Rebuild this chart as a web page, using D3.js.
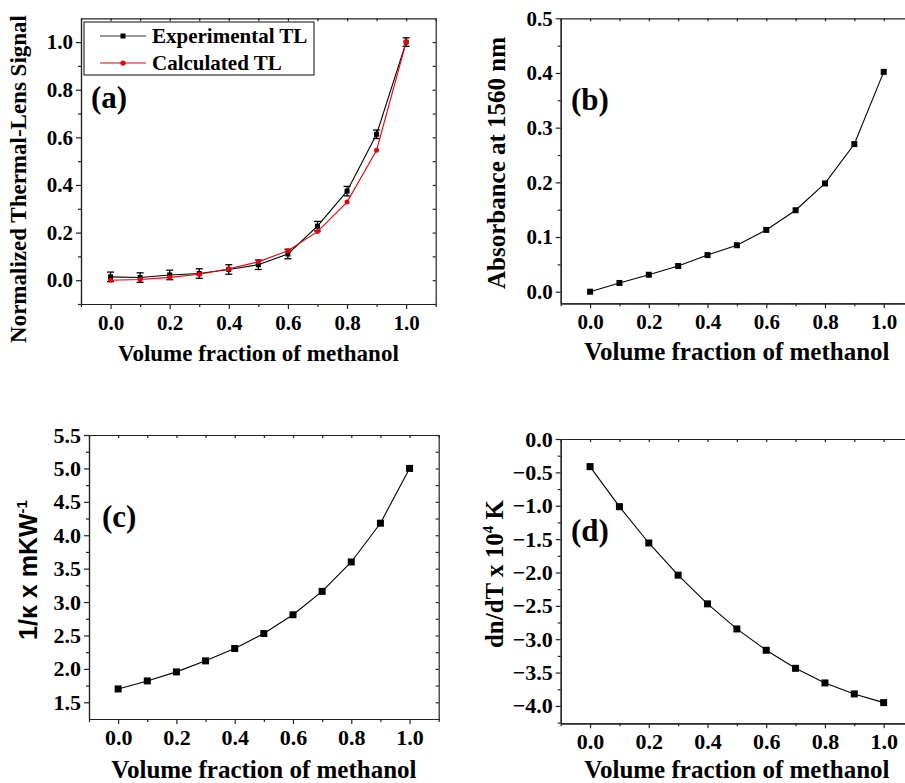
<!DOCTYPE html>
<html>
<head>
<meta charset="utf-8">
<script src="https://cdn.jsdelivr.net/npm/d3@7"></script>
<style>
  body { margin: 0; background: #fff; }
  svg { display: block; }
</style>
</head>
<body>
<div id="chart"></div>
<script>
// volume fraction of methanol (x values, shared by all panels)
const fraction = [0.0, 0.1, 0.2, 0.3, 0.4, 0.5, 0.6, 0.7, 0.8, 0.9, 1.0];

// (a) normalized thermal-lens signal
const expTL = [0.014, 0.011, 0.022, 0.028, 0.045, 0.065, 0.11, 0.227, 0.374, 0.613, 1.0];
const expErr = [0.02, 0.02, 0.02, 0.02, 0.02, 0.02, 0.02, 0.02, 0.02, 0.018, 0.018];
const calcTL = [0.0, 0.003, 0.012, 0.025, 0.048, 0.077, 0.124, 0.204, 0.328, 0.546, 1.0];

// (b) absorbance at 1560 nm
const absorbance = [0.0, 0.016, 0.031, 0.047, 0.067, 0.085, 0.113, 0.149, 0.198, 0.27, 0.402];

// (c) 1/kappa
const invKappa = [1.7, 1.82, 1.955, 2.12, 2.305, 2.53, 2.81, 3.16, 3.6, 4.18, 5.0];

// (d) dn/dT
const dndT = [-0.414, -1.014, -1.558, -2.04, -2.47, -2.846, -3.166, -3.436, -3.655, -3.82, -3.95];

// tick labels
const xTicks = [0.0, 0.2, 0.4, 0.6, 0.8, 1.0];
const xMinor = [-0.1, 0.1, 0.3, 0.5, 0.7, 0.9, 1.1];
const ticksA = [0.0, 0.2, 0.4, 0.6, 0.8, 1.0];
const minorA = [-0.1, 0.1, 0.3, 0.5, 0.7, 0.9];
const ticksB = [0.0, 0.1, 0.2, 0.3, 0.4, 0.5];
const minorB = [0.05, 0.15, 0.25, 0.35, 0.45];
const ticksC = [1.5, 2.0, 2.5, 3.0, 3.5, 4.0, 4.5, 5.0, 5.5];
const minorC = [1.75, 2.25, 2.75, 3.25, 3.75, 4.25, 4.75, 5.25];
const ticksD = [0.0, -0.5, -1.0, -1.5, -2.0, -2.5, -3.0, -3.5, -4.0];
const minorD = [-0.25, -0.75, -1.25, -1.75, -2.25, -2.75, -3.25, -3.75, -4.25];

const serif = "'Liberation Serif', 'Times New Roman', serif";
const sans = "'Liberation Sans', Arial, sans-serif";

const svg = d3.select("#chart").append("svg")
  .attr("width", 905)
  .attr("height", 783);

function panel(p) {
  const x = d3.scaleLinear().domain([-0.1, 1.1]).range([p.left, p.right]);
  const y = d3.scaleLinear().domain(p.yDomain).range([p.bottom, p.top]);
  const g = svg.append("g");

  // top and right frame with small inward ticks
  g.append("g")
    .attr("transform", `translate(0, ${p.top})`)
    .call(d3.axisTop(x).tickValues(d3.range(-1, 12).map(d => d / 10)).tickSize(-3).tickSizeOuter(0).tickFormat(""))
    .call(s => s.selectAll("path, line").attr("stroke", "#222").attr("stroke-width", 1.2));
  g.append("g")
    .attr("transform", `translate(${p.right}, 0)`)
    .call(d3.axisRight(y).tickValues(p.yTicks.concat(p.yMinor)).tickSize(-3).tickSizeOuter(0).tickFormat(""))
    .call(s => s.selectAll("path, line").attr("stroke", "#222").attr("stroke-width", 1.2));

  // bottom axis
  const xa = g.append("g").attr("transform", `translate(0, ${p.bottom})`);
  xa.call(d3.axisBottom(x).tickValues(xTicks).tickSize(5).tickSizeOuter(0)
    .tickPadding(p.xPad).tickFormat(d3.format(".1f")));
  xa.append("g").call(d3.axisBottom(x).tickValues(xMinor).tickSize(3).tickSizeOuter(0).tickFormat(""));
  xa.selectAll("path, line").attr("stroke", "#222").attr("stroke-width", 1.2);
  xa.selectAll("text").attr("font-family", serif).attr("font-weight", "bold")
    .attr("font-size", p.tickFont).attr("fill", "#000");

  // left axis
  const ya = g.append("g").attr("transform", `translate(${p.left}, 0)`);
  ya.call(d3.axisLeft(y).tickValues(p.yTicks).tickSize(5).tickSizeOuter(0)
    .tickPadding(3).tickFormat(d3.format(".1f")));
  ya.append("g").call(d3.axisLeft(y).tickValues(p.yMinor).tickSize(3).tickSizeOuter(0).tickFormat(""));
  ya.selectAll("path, line").attr("stroke", "#222").attr("stroke-width", 1.2);
  ya.selectAll("text").attr("font-family", serif).attr("font-weight", "bold")
    .attr("font-size", p.tickFont).attr("fill", "#000");

  // x title
  g.append("text")
    .attr("x", (p.left + p.right) / 2)
    .attr("y", p.xTitleY)
    .attr("text-anchor", "middle")
    .attr("font-family", serif)
    .attr("font-weight", "bold")
    .attr("font-size", p.titleFont)
    .text("Volume fraction of methanol");

  // panel letter
  g.append("text")
    .attr("x", p.labelX)
    .attr("y", p.labelY)
    .attr("font-family", serif)
    .attr("font-weight", "bold")
    .attr("font-size", 31)
    .text(p.label);

  // series
  p.series.forEach(function (s) {
    const pts = fraction.map((f, i) => [f, s.values[i]]);
    const line = d3.line().x(d => x(d[0])).y(d => y(d[1]));
    g.append("path")
      .datum(pts)
      .attr("d", line)
      .attr("fill", "none")
      .attr("stroke", s.color)
      .attr("stroke-width", 1.1);
    if (s.shape === "square") {
      g.selectAll(null)
        .data(pts)
        .join("rect")
        .attr("x", d => x(d[0]) - s.size / 2)
        .attr("y", d => y(d[1]) - s.size / 2)
        .attr("width", s.size)
        .attr("height", s.size)
        .attr("fill", s.color);
    } else {
      g.selectAll(null)
        .data(pts)
        .join("circle")
        .attr("cx", d => x(d[0]))
        .attr("cy", d => y(d[1]))
        .attr("r", s.size / 2)
        .attr("fill", s.color);
    }
    if (s.err) {
      const eb = g.append("g").attr("stroke", "#000").attr("stroke-width", 1.3);
      pts.forEach(function (d, i) {
        const cx = x(d[0]);
        const y0 = y(d[1] - s.err[i]);
        const y1 = y(d[1] + s.err[i]);
        eb.append("line").attr("x1", cx).attr("x2", cx).attr("y1", y0).attr("y2", y1);
        eb.append("line").attr("x1", cx - 3.5).attr("x2", cx + 3.5).attr("y1", y0).attr("y2", y0);
        eb.append("line").attr("x1", cx - 3.5).attr("x2", cx + 3.5).attr("y1", y1).attr("y2", y1);
      });
    }
  });

  return { g: g, x: x, y: y };
}

// (a)
const pa = panel({
  left: 81, right: 435.7, top: 18.3, bottom: 304,
  yDomain: [-0.1, 1.1], yTicks: ticksA, yMinor: minorA,
  tickFont: 21, xPad: 6, titleFont: 23, xTitleY: 361,
  label: "(a)", labelX: 91, labelY: 108,
  series: [
    { values: expTL, color: "#000", shape: "square", size: 5, err: expErr },
    { values: calcTL, color: "#e8000b", shape: "circle", size: 5 }
  ]
});
pa.g.append("text")
  .attr("transform", "translate(26, 179) rotate(-90)")
  .attr("text-anchor", "middle")
  .attr("font-family", serif).attr("font-weight", "bold").attr("font-size", 23)
  .text("Normalized Thermal-Lens Signal");

// legend for (a)
const legend = pa.g.append("g");
legend.append("rect")
  .attr("x", 84).attr("y", 22).attr("width", 230).attr("height", 53)
  .attr("fill", "#fff").attr("stroke", "#333").attr("stroke-width", 1.2);
const legItems = [
  { name: "Experimental TL", color: "#333", mark: "square" },
  { name: "Calculated TL", color: "#e8000b", mark: "circle" }
];
legItems.forEach(function (d, i) {
  const ly = 36 + i * 27;
  legend.append("line").attr("x1", 100).attr("x2", 146).attr("y1", ly).attr("y2", ly)
    .attr("stroke", d.color).attr("stroke-width", 1.2);
  if (d.mark === "square") {
    legend.append("rect").attr("x", 120.5).attr("y", ly - 2.5).attr("width", 5).attr("height", 5).attr("fill", "#000");
  } else {
    legend.append("circle").attr("cx", 123).attr("cy", ly).attr("r", 2.6).attr("fill", d.color);
  }
  legend.append("text")
    .attr("x", 152).attr("y", ly + 7)
    .attr("font-family", serif).attr("font-weight", "bold").attr("font-size", 21)
    .text(d.name);
});

// (b)
const pb = panel({
  left: 560.7, right: 913.1, top: 18.3, bottom: 303.3,
  yDomain: [-0.0212, 0.5], yTicks: ticksB, yMinor: minorB,
  tickFont: 21, xPad: 6, titleFont: 25, xTitleY: 360,
  label: "(b)", labelX: 571, labelY: 110,
  series: [{ values: absorbance, color: "#000", shape: "square", size: 6 }]
});
pb.g.append("text")
  .attr("transform", "translate(505, 163) rotate(-90)")
  .attr("text-anchor", "middle")
  .attr("font-family", serif).attr("font-weight", "bold").attr("font-size", 25)
  .text("Absorbance at 1560 nm");

// (c)
const pc = panel({
  left: 89, right: 438.7, top: 435, bottom: 719,
  yDomain: [1.25, 5.5], yTicks: ticksC, yMinor: minorC,
  tickFont: 22, xPad: 5.5, titleFont: 25, xTitleY: 778,
  label: "(c)", labelX: 102, labelY: 527,
  series: [{ values: invKappa, color: "#000", shape: "square", size: 7 }]
});
const tc = pc.g.append("text")
  .attr("transform", "translate(37, 570) rotate(-90)")
  .attr("text-anchor", "middle")
  .attr("font-family", sans).attr("font-weight", "bold").attr("font-size", 25);
tc.append("tspan").text("1/\u03BA x mKW");
tc.append("tspan").attr("dy", -10).attr("font-size", 15).text("-1");

// (d)
const pd = panel({
  left: 560.7, right: 913, top: 439, bottom: 723.3,
  yDomain: [-4.26, 0], yTicks: ticksD, yMinor: minorD,
  tickFont: 22, xPad: 5, titleFont: 25, xTitleY: 778,
  label: "(d)", labelX: 571, labelY: 541,
  series: [{ values: dndT, color: "#000", shape: "square", size: 7 }]
});
const td = pd.g.append("text")
  .attr("transform", "translate(503, 574) rotate(-90)")
  .attr("text-anchor", "middle")
  .attr("font-family", serif).attr("font-weight", "bold").attr("font-size", 25);
td.append("tspan").text("dn/dT x 10");
td.append("tspan").attr("dy", -10).attr("font-size", 15).text("4");
td.append("tspan").attr("dy", 10).text(" K");
</script>
</body>
</html>
